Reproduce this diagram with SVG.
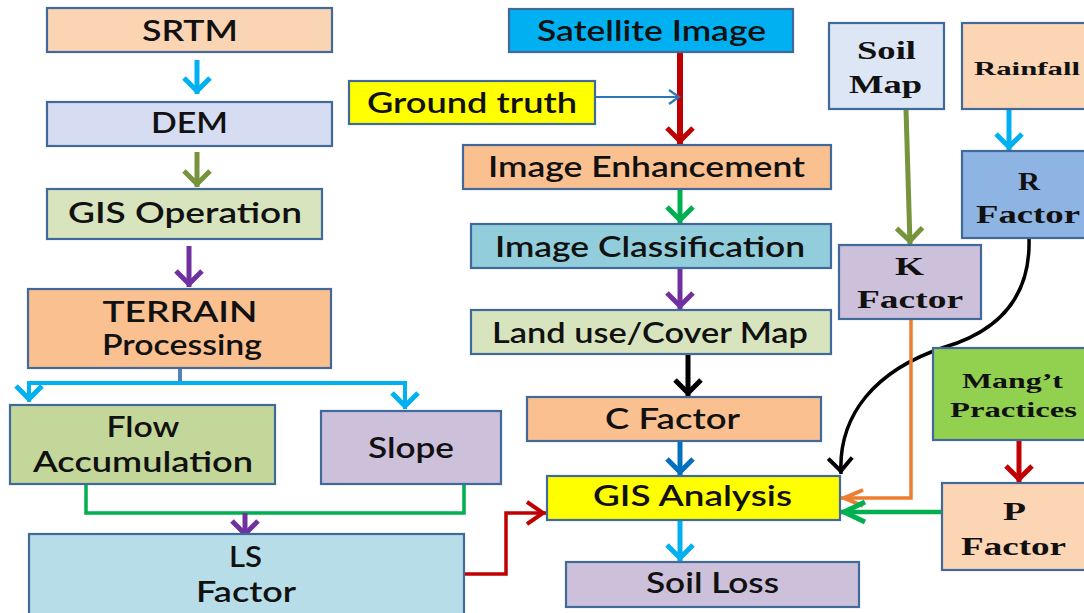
<svg xmlns="http://www.w3.org/2000/svg" width="1084" height="613" viewBox="0 0 1084 613">
<style>
.box{stroke:#41699A;stroke-width:2.2}
.t{font-family:Lato,"Open Sans","DejaVu Sans",sans-serif;font-size:28px;font-weight:600;fill:#111;text-anchor:middle}
.s{font-family:"Liberation Serif","Times New Roman",serif;font-weight:bold;fill:#111;text-anchor:middle}
.c{fill:none;stroke-width:5}
.m{fill:none;stroke-width:5}
</style>
<defs>
<marker id="aCy" markerUnits="userSpaceOnUse" markerWidth="40" markerHeight="40" viewBox="-20 -20 40 40" refX="0" refY="0" orient="auto"><path class="m" d="M-16,-13 L-3,0 L-16,13" stroke="#00B0F0"/></marker>
<marker id="aOl" markerUnits="userSpaceOnUse" markerWidth="40" markerHeight="40" viewBox="-20 -20 40 40" refX="0" refY="0" orient="auto"><path class="m" d="M-16,-13 L-3,0 L-16,13" stroke="#77933C"/></marker>
<marker id="aPu" markerUnits="userSpaceOnUse" markerWidth="40" markerHeight="40" viewBox="-20 -20 40 40" refX="0" refY="0" orient="auto"><path class="m" d="M-16,-13 L-3,0 L-16,13" stroke="#7030A0"/></marker>
<marker id="aRd" markerUnits="userSpaceOnUse" markerWidth="40" markerHeight="40" viewBox="-20 -20 40 40" refX="0" refY="0" orient="auto"><path class="m" d="M-16,-13 L-3,0 L-16,13" stroke="#C00000"/></marker>
<marker id="aRdL" markerUnits="userSpaceOnUse" markerWidth="40" markerHeight="40" viewBox="-20 -20 40 40" refX="0" refY="0" orient="auto"><path class="m" d="M-19,-11 L-3,0 L-19,11" stroke="#C00000" style="stroke-width:4"/></marker>
<marker id="aGr" markerUnits="userSpaceOnUse" markerWidth="40" markerHeight="40" viewBox="-20 -20 40 40" refX="0" refY="0" orient="auto"><path class="m" d="M-16,-13 L-3,0 L-16,13" stroke="#00B050"/></marker>
<marker id="aGrL" markerUnits="userSpaceOnUse" markerWidth="40" markerHeight="40" viewBox="-30 -20 40 40" refX="0" refY="0" orient="auto"><path class="m" d="M-24,-10 L-3,0 L-24,10" stroke="#00B050"/></marker>
<marker id="aBl" markerUnits="userSpaceOnUse" markerWidth="40" markerHeight="40" viewBox="-20 -20 40 40" refX="0" refY="0" orient="auto"><path class="m" d="M-16,-13 L-3,0 L-16,13" stroke="#0070C0"/></marker>
<marker id="aBk" markerUnits="userSpaceOnUse" markerWidth="40" markerHeight="40" viewBox="-20 -20 40 40" refX="0" refY="0" orient="auto"><path class="m" d="M-16,-13 L-3,0 L-16,13" stroke="#000"/></marker>
<marker id="aBkC" markerUnits="userSpaceOnUse" markerWidth="40" markerHeight="40" viewBox="-20 -20 40 40" refX="0" refY="0" orient="auto"><path class="m" d="M-16,-12 L-3,0 L-16,12" stroke="#000" style="stroke-width:4"/></marker>
<marker id="aOrL" markerUnits="userSpaceOnUse" markerWidth="40" markerHeight="40" viewBox="-30 -20 40 40" refX="0" refY="0" orient="auto"><path class="m" d="M-22,-8 L-3,0 L-22,8" stroke="#ED7D31" style="stroke-width:4"/></marker>
<marker id="aThin" markerUnits="userSpaceOnUse" markerWidth="20" markerHeight="20" viewBox="-12 -10 14 20" refX="0" refY="0" orient="auto"><path d="M-10,-7 L0,0 L-10,7" fill="none" stroke="#2E75B6" stroke-width="2.2"/></marker>
</defs>
<rect width="1084" height="613" fill="#fff"/>

<g id="connectors">
<path class="c" d="M197,60 V94" stroke="#00B0F0" marker-end="url(#aCy)"/>
<path class="c" d="M197,152 V187" stroke="#77933C" marker-end="url(#aOl)"/>
<path class="c" d="M189,246 V287" stroke="#7030A0" marker-end="url(#aPu)"/>
<path d="M180,368 V383" fill="none" stroke="#4F81BD" stroke-width="4"/>
<path d="M180,383 H29 V402" fill="none" stroke="#00B0F0" stroke-width="4" marker-end="url(#aCy)"/>
<path d="M180,383 H405 V409" fill="none" stroke="#00B0F0" stroke-width="4" marker-end="url(#aCy)"/>
<path d="M86,484 V513 H464 V484" fill="none" stroke="#00B050" stroke-width="3.5"/>
<path class="c" d="M245,513 V537" stroke="#7030A0" marker-end="url(#aPu)"/>
<path d="M464,574 H506 V513 H546" fill="none" stroke="#C00000" stroke-width="3.5" marker-end="url(#aRdL)"/>
<path d="M680,52 V144" fill="none" stroke="#C00000" stroke-width="6" marker-end="url(#aRd)"/>
<path d="M595,97 H679" fill="none" stroke="#2E75B6" stroke-width="2.2" marker-end="url(#aThin)"/>
<path class="c" d="M680,189 V223" stroke="#00B050" marker-end="url(#aGr)"/>
<path class="c" d="M680,268 V309" stroke="#7030A0" marker-end="url(#aPu)"/>
<path class="c" d="M688,354 V396" stroke="#000" marker-end="url(#aBk)"/>
<path class="c" d="M680,441 V475" stroke="#0070C0" marker-end="url(#aBl)"/>
<path class="c" d="M680,520 V561" stroke="#00B0F0" marker-end="url(#aCy)"/>
<path class="c" d="M906,109 L910,244" stroke="#77933C" marker-end="url(#aOl)"/>
<path class="c" d="M1009,109 V150" stroke="#00B0F0" marker-end="url(#aCy)"/>
<path d="M1029,238 C1031,300 995,332 945,347 C875,370 838,415 841,474" fill="none" stroke="#000" stroke-width="3.5" marker-end="url(#aBkC)"/>
<path d="M911,319 V498 H841" fill="none" stroke="#ED7D31" stroke-width="3.5" marker-end="url(#aOrL)"/>
<path d="M942,512 H841" fill="none" stroke="#00B050" stroke-width="4.5" marker-end="url(#aGrL)"/>
<path class="c" d="M1019,440 V482" stroke="#C00000" marker-end="url(#aRd)"/>
</g>

<g id="srtm"><rect class="box" x="47" y="8" width="285" height="44" fill="#FBD4B4"/><text class="t" x="190" y="41" textLength="96" lengthAdjust="spacingAndGlyphs">SRTM</text></g>
<g id="dem"><rect class="box" x="47" y="102" width="285" height="44" fill="#D6DCF1"/><text class="t" x="189.5" y="133" textLength="77" lengthAdjust="spacingAndGlyphs">DEM</text></g>
<g id="gis-operation"><rect class="box" x="47" y="189" width="275" height="50" fill="#D7E4BD"/><text class="t" x="185" y="223" textLength="234" lengthAdjust="spacingAndGlyphs">GIS Operation</text></g>
<g id="terrain"><rect class="box" x="28" y="289" width="303" height="79" fill="#FAC090"/><text class="t" x="180" y="322" textLength="155" lengthAdjust="spacingAndGlyphs">TERRAIN</text><text class="t" x="182" y="355" textLength="160" lengthAdjust="spacingAndGlyphs">Processing</text></g>
<g id="flow-accumulation"><rect class="box" x="10" y="405" width="265" height="79" fill="#C4D79B"/><text class="t" x="143" y="437" textLength="73" lengthAdjust="spacingAndGlyphs">Flow</text><text class="t" x="143" y="472" textLength="220" lengthAdjust="spacingAndGlyphs">Accumulation</text></g>
<g id="slope"><rect class="box" x="321" y="411" width="180" height="73" fill="#CCC0DA"/><text class="t" x="411" y="458" textLength="86" lengthAdjust="spacingAndGlyphs">Slope</text></g>
<g id="ls-factor"><rect class="box" x="29" y="534" width="435" height="82" fill="#B7DEE8"/><text class="t" x="245.5" y="567" textLength="33" lengthAdjust="spacingAndGlyphs">LS</text><text class="t" x="246" y="602" textLength="100" lengthAdjust="spacingAndGlyphs">Factor</text></g>

<g id="satellite-image"><rect class="box" x="509" y="9" width="284" height="43" fill="#00B0F0"/><text class="t" x="651.5" y="41" textLength="229" lengthAdjust="spacingAndGlyphs">Satellite Image</text></g>
<g id="ground-truth"><rect class="box" x="349" y="81" width="246" height="43" fill="#FFFF00"/><text class="t" x="472" y="113" textLength="210" lengthAdjust="spacingAndGlyphs">Ground truth</text></g>
<g id="image-enhancement"><rect class="box" x="463" y="145" width="368" height="44" fill="#FAC090"/><text class="t" x="646.5" y="177" textLength="317" lengthAdjust="spacingAndGlyphs">Image Enhancement</text></g>
<g id="image-classification"><rect class="box" x="471" y="224" width="360" height="44" fill="#92CDDC"/><text class="t" x="650" y="257" textLength="310" lengthAdjust="spacingAndGlyphs">Image Classification</text></g>
<g id="land-use"><rect class="box" x="471" y="310" width="360" height="44" fill="#D7E4BD"/><text class="t" x="650" y="343" textLength="316" lengthAdjust="spacingAndGlyphs">Land use/Cover Map</text></g>
<g id="c-factor"><rect class="box" x="527" y="397" width="294" height="44" fill="#FAC090"/><text class="t" x="672.5" y="429" textLength="135" lengthAdjust="spacingAndGlyphs">C Factor</text></g>
<g id="gis-analysis"><rect class="box" x="547" y="476" width="293" height="44" fill="#FFFF00"/><text class="t" x="692.5" y="506" textLength="199" lengthAdjust="spacingAndGlyphs">GIS Analysis</text></g>
<g id="soil-loss"><rect class="box" x="566" y="562" width="293" height="45" fill="#CCC0DA"/><text class="t" x="712.5" y="593" textLength="133" lengthAdjust="spacingAndGlyphs">Soil Loss</text></g>

<g id="soil-map"><rect class="box" x="829" y="23" width="115" height="86" fill="#DCE6F4"/><text class="s" x="886.5" y="59" font-size="26" textLength="59" lengthAdjust="spacingAndGlyphs">Soil</text><text class="s" x="885.5" y="93" font-size="26" textLength="73" lengthAdjust="spacingAndGlyphs">Map</text></g>
<g id="rainfall"><rect class="box" x="962" y="23" width="130" height="86" fill="#FCD5B5"/><text class="s" x="1027" y="75" font-size="19" textLength="106" lengthAdjust="spacingAndGlyphs">Rainfall</text></g>
<g id="r-factor"><rect class="box" x="962" y="151" width="130" height="87" fill="#8EB4E3"/><text class="s" x="1029" y="190" font-size="26" textLength="22" lengthAdjust="spacingAndGlyphs">R</text><text class="s" x="1028" y="223" font-size="26" textLength="104" lengthAdjust="spacingAndGlyphs">Factor</text></g>
<g id="k-factor"><rect class="box" x="839" y="245" width="142" height="74" fill="#CCC0DA"/><text class="s" x="909.5" y="275" font-size="26" textLength="29" lengthAdjust="spacingAndGlyphs">K</text><text class="s" x="910" y="308" font-size="26" textLength="106" lengthAdjust="spacingAndGlyphs">Factor</text></g>
<g id="mangt-practices"><rect class="box" x="933" y="348" width="160" height="92" fill="#92D050"/><text class="s" x="1012.5" y="388" font-size="21" textLength="101" lengthAdjust="spacingAndGlyphs">Mang’t</text><text class="s" x="1013.5" y="417" font-size="21" textLength="127" lengthAdjust="spacingAndGlyphs">Practices</text></g>
<g id="p-factor"><rect class="box" x="942" y="483" width="150" height="87" fill="#FCD5B5"/><text class="s" x="1014.5" y="520" font-size="26" textLength="23" lengthAdjust="spacingAndGlyphs">P</text><text class="s" x="1013.5" y="555" font-size="26" textLength="105" lengthAdjust="spacingAndGlyphs">Factor</text></g>
</svg>
